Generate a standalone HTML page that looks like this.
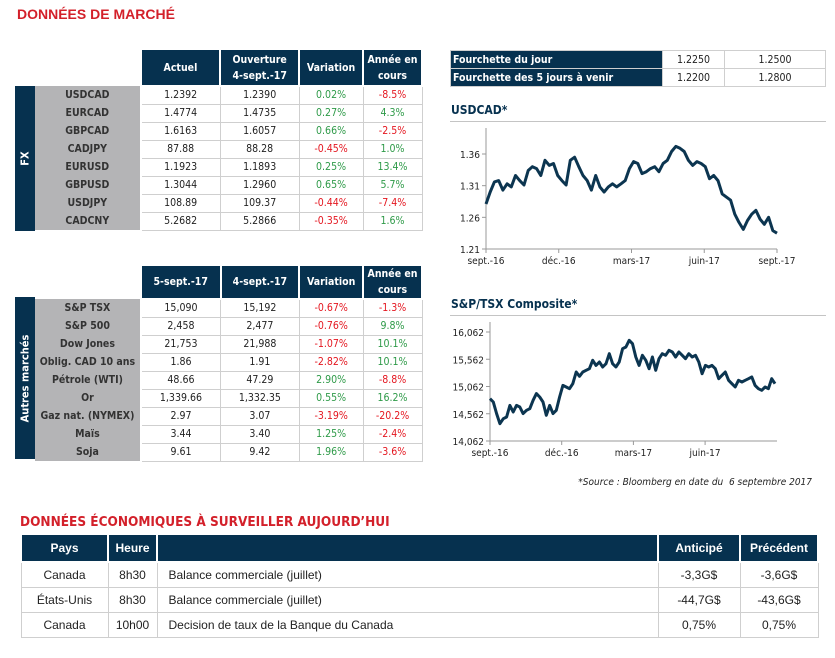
<!DOCTYPE html>
<html><head><meta charset="utf-8">
<style>
*{margin:0;padding:0;box-sizing:border-box}
body{width:835px;height:658px;background:#fff;font-family:"DejaVu Sans Condensed","DejaVu Sans","Liberation Sans",sans-serif;position:relative;overflow:hidden;color:#222}
.abs{position:absolute}
h1{position:absolute;font-family:"Liberation Sans",sans-serif;font-weight:bold;color:#d3202a;font-size:14px;letter-spacing:0}
table{position:absolute;border-collapse:collapse;font-size:10.5px}
td,th{text-align:center;padding:0;white-space:nowrap}
th{background:#06314f;color:#fff;font-weight:bold;border:2px solid #fff;border-top:none;line-height:16px}
td{border:1px solid #cfcfcf;height:18px}
td.lab{background:#b4b4b6;border:none;font-weight:bold;color:#333;border-right:2px solid #fff}
.g{color:#2e9a48}.r{color:#e4161f}
.vbar{position:absolute;background:#06314f;color:#fff;font-weight:bold;font-size:11px;display:flex;align-items:center;justify-content:center}
.vbar span{transform:rotate(-90deg);white-space:nowrap}
.ctitle{position:absolute;font-weight:bold;font-size:12px;color:#06314f;left:451px}
.rule{position:absolute;left:450px;width:376px;height:1px;background:#c4c4c4}
svg text{font-family:"DejaVu Sans Condensed","DejaVu Sans",sans-serif;font-size:10px;fill:#222}
.bt{font-family:"Liberation Sans",sans-serif;font-size:12px}
.bt td{height:25px}
.bt th{height:27px;font-size:12px}
</style></head><body>
<h1 style="left:17px;top:6px">DONNÉES DE MARCHÉ</h1>

<div class="vbar" style="left:15px;top:86px;width:20px;height:145px"><span>FX</span></div>
<table style="left:35px;top:50px;width:388px">
<tr style="height:36px"><th style="background:#fff;border:none;width:106px"></th><th style="width:80px">Actuel</th><th style="width:79px">Ouverture<br>4-sept.-17</th><th style="width:64px">Variation</th><th style="width:59px">Année en<br>cours</th></tr>
<tr><td class="lab">USDCAD</td><td>1.2392</td><td>1.2390</td><td class="g">0.02%</td><td class="r">-8.5%</td></tr>
<tr><td class="lab">EURCAD</td><td>1.4774</td><td>1.4735</td><td class="g">0.27%</td><td class="g">4.3%</td></tr>
<tr><td class="lab">GBPCAD</td><td>1.6163</td><td>1.6057</td><td class="g">0.66%</td><td class="r">-2.5%</td></tr>
<tr><td class="lab">CADJPY</td><td>87.88</td><td>88.28</td><td class="r">-0.45%</td><td class="g">1.0%</td></tr>
<tr><td class="lab">EURUSD</td><td>1.1923</td><td>1.1893</td><td class="g">0.25%</td><td class="g">13.4%</td></tr>
<tr><td class="lab">GBPUSD</td><td>1.3044</td><td>1.2960</td><td class="g">0.65%</td><td class="g">5.7%</td></tr>
<tr><td class="lab">USDJPY</td><td>108.89</td><td>109.37</td><td class="r">-0.44%</td><td class="r">-7.4%</td></tr>
<tr><td class="lab">CADCNY</td><td>5.2682</td><td>5.2866</td><td class="r">-0.35%</td><td class="g">1.6%</td></tr>
</table>

<div class="vbar" style="left:15px;top:297px;width:20px;height:162px"><span>Autres marchés</span></div>
<table style="left:35px;top:266px;width:388px">
<tr style="height:31px"><th style="background:#fff;border:none;width:106px"></th><th style="width:80px">5-sept.-17</th><th style="width:79px">4-sept.-17</th><th style="width:64px">Variation</th><th style="width:59px">Année en<br>cours</th></tr>
<tr><td class="lab">S&amp;P TSX</td><td>15,090</td><td>15,192</td><td class="r">-0.67%</td><td class="r">-1.3%</td></tr>
<tr><td class="lab">S&amp;P 500</td><td>2,458</td><td>2,477</td><td class="r">-0.76%</td><td class="g">9.8%</td></tr>
<tr><td class="lab">Dow Jones</td><td>21,753</td><td>21,988</td><td class="r">-1.07%</td><td class="g">10.1%</td></tr>
<tr><td class="lab">Oblig. CAD 10 ans</td><td>1.86</td><td>1.91</td><td class="r">-2.82%</td><td class="g">10.1%</td></tr>
<tr><td class="lab">Pétrole (WTI)</td><td>48.66</td><td>47.29</td><td class="g">2.90%</td><td class="r">-8.8%</td></tr>
<tr><td class="lab">Or</td><td>1,339.66</td><td>1,332.35</td><td class="g">0.55%</td><td class="g">16.2%</td></tr>
<tr><td class="lab">Gaz nat. (NYMEX)</td><td>2.97</td><td>3.07</td><td class="r">-3.19%</td><td class="r">-20.2%</td></tr>
<tr><td class="lab">Maïs</td><td>3.44</td><td>3.40</td><td class="g">1.25%</td><td class="r">-2.4%</td></tr>
<tr><td class="lab">Soja</td><td>9.61</td><td>9.42</td><td class="g">1.96%</td><td class="r">-3.6%</td></tr>
</table>

<table style="left:450px;top:50px;width:376px">
<tr><th style="text-align:left;border:1px solid #cfcfcf;width:212px;height:18px;padding-left:2px">Fourchette du jour</th><td style="width:62px">1.2250</td><td>1.2500</td></tr>
<tr><th style="text-align:left;border:1px solid #cfcfcf;height:18px;padding-left:2px">Fourchette des 5 jours à venir</th><td>1.2200</td><td>1.2800</td></tr>
</table>

<div class="ctitle" style="top:103px">USDCAD*</div>
<div class="rule" style="top:121px"></div>
<div class="ctitle" style="top:297px">S&amp;P/TSX Composite*</div>
<div class="rule" style="top:315px"></div>

<svg id="charts" class="abs" style="left:0;top:0" width="835" height="658"></svg>

<div class="abs" style="left:460px;top:477px;width:352px;text-align:right;font-style:italic;font-size:10px;white-space:nowrap">*Source : Bloomberg en date du&nbsp; 6 septembre 2017</div>

<h1 style="left:20px;top:514px;font-size:13.5px;font-family:'DejaVu Sans Condensed','DejaVu Sans',sans-serif">DONNÉES ÉCONOMIQUES À SURVEILLER AUJOURD’HUI</h1>
<table class="bt" style="left:20px;top:535px;width:799px">
<tr><th style="width:87px">Pays</th><th style="width:49px">Heure</th><th></th><th style="width:82px">Anticipé</th><th style="width:78px">Précédent</th></tr>
<tr><td>Canada</td><td>8h30</td><td style="text-align:left;padding-left:11px">Balance commerciale (juillet)</td><td>-3,3G$</td><td>-3,6G$</td></tr>
<tr><td>États-Unis</td><td>8h30</td><td style="text-align:left;padding-left:11px">Balance commerciale (juillet)</td><td>-44,7G$</td><td>-43,6G$</td></tr>
<tr><td>Canada</td><td>10h00</td><td style="text-align:left;padding-left:11px">Decision de taux de la Banque du Canada</td><td>0,75%</td><td>0,75%</td></tr>
</table>

<script>
const usdValues=[1.281,1.300,1.316,1.318,1.303,1.313,1.308,1.326,1.318,1.311,1.334,1.340,1.337,1.326,1.350,1.342,1.345,1.326,1.318,1.311,1.350,1.355,1.340,1.326,1.318,1.303,1.326,1.308,1.300,1.308,1.313,1.308,1.313,1.318,1.337,1.348,1.345,1.329,1.332,1.337,1.340,1.332,1.345,1.350,1.364,1.372,1.369,1.364,1.350,1.342,1.348,1.345,1.340,1.321,1.326,1.318,1.297,1.292,1.287,1.265,1.252,1.241,1.255,1.265,1.271,1.257,1.249,1.260,1.239,1.235];
const usdTicks=[1.21,1.26,1.31,1.36];
const usdMonths=["sept.-16","déc.-16","mars-17","juin-17","sept.-17"];
const tsxValues=[14839,14778,14564,14380,14472,14502,14716,14594,14716,14686,14564,14625,14655,14808,14931,14869,14778,14533,14716,14564,14625,14869,15083,15053,15022,15114,15328,15249,15328,15359,15389,15542,15450,15512,15420,15481,15664,15481,15420,15512,15756,15787,15909,15848,15603,15450,15634,15542,15389,15603,15359,15573,15664,15634,15726,15695,15603,15695,15634,15573,15664,15603,15634,15512,15297,15450,15420,15450,15389,15206,15267,15328,15175,15114,15053,15175,15145,15175,15206,15236,15083,15022,14992,15053,15022,15206,15114];
const tsxTicks=[14062,14562,15062,15562,16062];
const tsxMonths=["sept.-16","déc.-16","mars-17","juin-17"];

const NS="http://www.w3.org/2000/svg";
const svg=document.getElementById('charts');
function mk(tag,attrs,parent){const e=document.createElementNS(NS,tag);for(const k in attrs)e.setAttribute(k,attrs[k]);(parent||svg).appendChild(e);return e;}

function chart(cfg){
  const g=mk('g',{});
  
  
  const sx=i=>cfg.x0+(cfg.x1-cfg.x0)*i/(cfg.values.length-1);
  const sy=v=>cfg.yBot+(v-cfg.vMin)/(cfg.vMax-cfg.vMin)*(cfg.yTop-cfg.yBot);
  const ax=mk('line',{x1:cfg.x0,x2:cfg.x0,y1:cfg.axisTop,y2:cfg.yBot,stroke:'#999','stroke-width':1},g);
  
  
  const bx=mk('line',{x1:cfg.x0,x2:cfg.axisRight,y1:cfg.yBot,y2:cfg.yBot,stroke:'#999','stroke-width':1},g);
  
  
  cfg.ticks.forEach(t=>{
    const y=sy(t);
    mk('line',{x1:cfg.x0-4,x2:cfg.x0,y1:y,y2:y,stroke:'#999'},g);
    const tx=mk('text',{x:cfg.x0-6,y:y+4,'text-anchor':'end'},g);
    tx.textContent=cfg.fmt(t);
    
    
  });
  cfg.months.forEach((m,i)=>{
    const x=cfg.x0+i*cfg.monthStep;
    mk('line',{x1:x,x2:x,y1:cfg.yBot,y2:cfg.yBot+4,stroke:'#999'},g);
    const tx=mk('text',{x:x,y:cfg.yBot+15,'text-anchor':'middle'},g);
    tx.textContent=m;
    
    
  });
  const d=cfg.values.map((v,i)=>(i?'L':'M')+sx(i).toFixed(1)+','+sy(v).toFixed(1)).join(' ');
  const p=mk('path',{d:d,fill:'none',stroke:'#0c3550','stroke-width':3,'stroke-linejoin':'round'},g);
  
  
}
chart({name:'usdcad-chart',values:usdValues,ticks:usdTicks,months:usdMonths,x0:486,x1:777,axisRight:777,monthStep:72.75,yBot:249,yTop:154,vMin:1.21,vMax:1.36,axisTop:128,fmt:t=>t.toFixed(2)});
chart({name:'tsx-chart',values:tsxValues,ticks:tsxTicks,months:tsxMonths,x0:490,x1:775,axisRight:777,monthStep:71.7,yBot:441,yTop:332,vMin:14062,vMax:16062,axisTop:322,fmt:t=>t.toLocaleString('en-US')});
</script>
</body></html>
